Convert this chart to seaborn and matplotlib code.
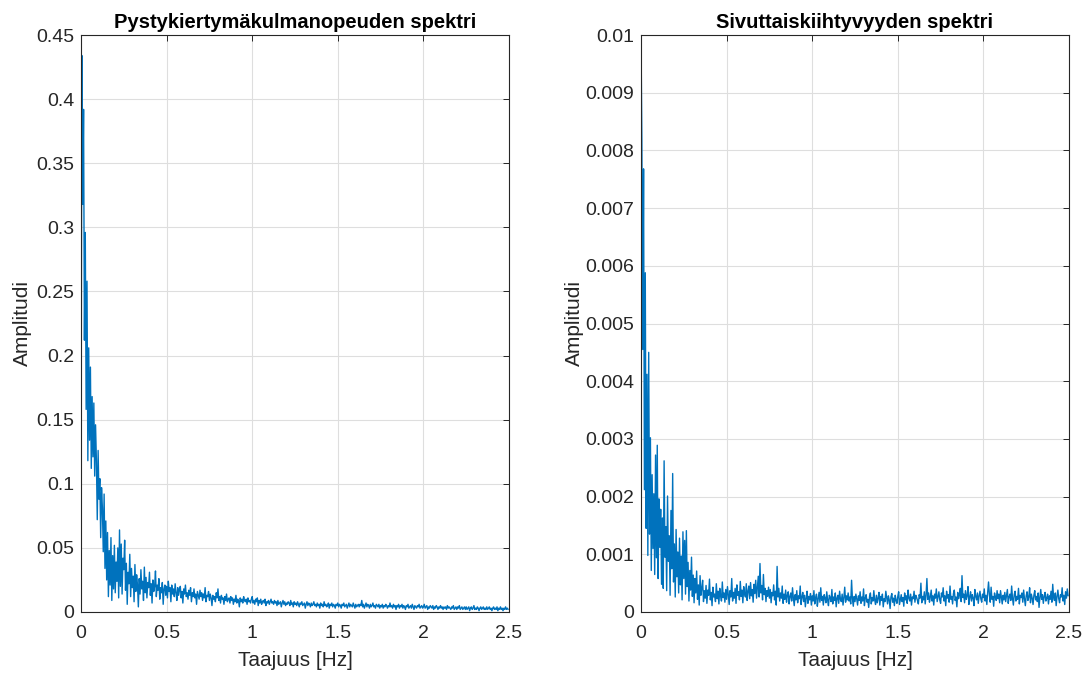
import numpy as np
import pandas as pd
import matplotlib
matplotlib.use("Agg")
import matplotlib.pyplot as plt
from matplotlib.ticker import FormatStrFormatter, MultipleLocator
import seaborn as sns

# Spectral resolution of both amplitude spectra [Hz]
df_hz = 0.005

# Yaw-rate spectrum amplitude, in units of 1e-3
yaw_amp_milli = [
    83, 434, 318, 392, 212, 296, 158, 258, 118, 206, 134, 191, 112, 168, 121, 163, 106, 146, 118, 72, 126, 88, 104, 58, 97,
    81, 47, 92, 34, 71, 25, 62, 12, 48, 21, 58, 9, 44, 18, 52, 15, 39, 24, 50, 11, 64, 20, 53, 14, 42,
    33, 56, 17, 38, 6, 31, 22, 45, 12, 34, 19, 28, 8, 37, 16, 29, 21, 4, 26, 14, 33, 18, 24, 9, 35,
    15, 27, 11, 23, 19, 31, 13, 22, 7, 25, 16, 20, 32, 12, 21, 17, 26, 10, 19, 15, 23, 6, 18, 21, 13,
    20, 11, 24, 16, 19, 8, 21, 14, 18, 12, 22, 15, 9, 19, 13, 17, 20, 11, 16, 7, 18, 14, 21, 12, 15,
    10, 17, 13, 19, 8, 15, 12, 18, 11, 14, 6, 16, 13, 10, 17, 12, 15, 9, 14, 11, 19, 8, 13, 12, 16,
    9, 14, 11, 5, 13, 10, 12, 8, 15, 11, 18, 9, 12, 7, 13, 10, 11, 6, 12, 9, 14, 8, 10, 11, 7,
    12, 9, 11, 6, 10, 8, 13, 7, 10, 9, 4, 11, 8, 10, 7, 12, 9, 8, 10, 6, 11, 8, 9, 7, 10,
    12, 7, 9, 6, 10, 8, 11, 5, 9, 7, 10, 6, 8, 9, 7, 10, 5, 8, 7, 9, 6, 8, 10, 7, 8,
    6, 9, 7, 8, 5, 9, 6, 7, 8, 4, 7, 9, 6, 8, 5, 7, 6, 8, 7, 5, 9, 6, 7, 4, 8,
    6, 7, 5, 8, 6, 4, 7, 6, 8, 5, 6, 7, 3, 6, 8, 5, 7, 6, 4, 7, 5, 6, 8, 5, 6,
    4, 7, 5, 6, 3, 7, 5, 6, 4, 8, 5, 6, 4, 5, 7, 3, 6, 5, 7, 4, 6, 5, 3, 6, 5,
    7, 4, 6, 5, 3, 6, 5, 7, 4, 5, 6, 3, 5, 7, 4, 6, 5, 4, 7, 5, 3, 6, 4, 5, 6,
    4, 6, 5, 9, 4, 6, 3, 5, 7, 4, 6, 5, 3, 6, 4, 5, 7, 4, 5, 3, 6, 5, 4, 6, 3,
    5, 4, 6, 3, 5, 4, 6, 5, 3, 5, 4, 7, 4, 5, 3, 6, 4, 5, 2, 5, 4, 6, 3, 5, 4,
    6, 3, 5, 4, 2, 5, 4, 6, 3, 4, 5, 3, 6, 4, 2, 5, 4, 3, 5, 4, 6, 3, 4, 5, 3,
    4, 6, 3, 4, 5, 2, 4, 3, 5, 4, 3, 5, 2, 4, 3, 5, 4, 2, 4, 3, 5, 3, 4, 2, 4,
    3, 4, 2, 5, 3, 4, 3, 2, 4, 3, 5, 2, 3, 4, 2, 4, 3, 5, 2, 3, 4, 2, 3, 4, 2,
    4, 2, 3, 4, 1, 3, 4, 2, 3, 5, 2, 3, 2, 4, 3, 1, 3, 4, 2, 3, 4, 2, 3, 2, 4,
    2, 3, 4, 2, 3, 1, 3, 4, 2, 3, 2, 4, 1, 3, 2, 4, 2, 3, 1, 3, 2, 4, 2, 3, 2,
]

# Lateral acceleration spectrum amplitude, in units of 1e-5
lat_amp_e5 = [
    998, 817, 455, 768, 212, 588, 145, 412, 98, 450, 135, 302, 72, 238, 110, 205, 65, 272, 94, 289, 58, 196, 112, 178, 48,
    163, 41, 262, 95, 148, 37, 201, 88, 132, 29, 176, 75, 240, 52, 118, 26, 143, 61, 104, 33, 128, 47, 97, 21, 139,
    58, 124, 31, 141, 44, 86, 19, 72, 38, 95, 27, 64, 16, 58, 33, 71, 22, 47, 12, 63, 29, 41, 55, 18, 37,
    24, 46, 15, 38, 29, 57, 21, 34, 11, 43, 26, 31, 18, 49, 23, 36, 14, 41, 28, 19, 52, 25, 33, 17, 39,
    22, 44, 30, 13, 37, 26, 58, 19, 34, 24, 41, 15, 47, 29, 35, 21, 53, 27, 38, 16, 44, 31, 26, 49, 20,
    36, 45, 23, 51, 28, 39, 17, 48, 32, 55, 24, 42, 62, 26, 84, 33, 46, 21, 65, 30, 41, 18, 37, 27, 43,
    24, 39, 16, 34, 28, 47, 21, 36, 12, 79, 26, 41, 19, 33, 24, 45, 15, 31, 22, 38, 17, 29, 35, 14, 27,
    33, 19, 42, 24, 11, 30, 21, 37, 16, 28, 23, 45, 13, 26, 34, 18, 29, 9, 24, 36, 15, 27, 21, 32, 12,
    28, 19, 37, 14, 25, 31, 10, 23, 34, 17, 42, 20, 27, 12, 30, 24, 16, 35, 21, 11, 29, 25, 18, 39, 14,
    26, 20, 33, 9, 24, 29, 15, 36, 22, 18, 31, 12, 25, 43, 17, 28, 21, 33, 19, 26, 14, 55, 22, 10, 27,
    18, 31, 23, 12, 28, 20, 35, 15, 26, 19, 40, 11, 24, 30, 17, 22, 8, 27, 33, 14, 25, 19, 37, 21, 13,
    29, 16, 24, 34, 12, 27, 20, 31, 9, 23, 18, 36, 25, 14, 28, 21, 6, 26, 32, 17, 24, 11, 29, 20, 15,
    27, 35, 13, 22, 30, 18, 25, 10, 33, 21, 28, 15, 38, 24, 19, 31, 12, 26, 23, 36, 17, 29, 25, 20, 14,
    30, 24, 50, 16, 27, 21, 35, 14, 29, 58, 22, 33, 17, 26, 38, 19, 28, 12, 31, 24, 40, 18, 27, 35, 21,
    15, 33, 26, 42, 19, 28, 11, 36, 24, 30, 17, 45, 22, 27, 14, 32, 38, 20, 26, 9, 34, 23, 29, 41, 18,
    63, 25, 31, 16, 37, 22, 28, 44, 13, 26, 35, 19, 30, 24, 11, 39, 27, 21, 33, 15, 28, 36, 23, 17, 31,
    25, 40, 19, 29, 13, 34, 52, 30, 17, 43, 22, 27, 10, 33, 26, 20, 37, 23, 31, 16, 37, 25, 14, 29, 21,
    34, 18, 28, 39, 15, 26, 31, 20, 45, 24, 12, 30, 36, 19, 27, 22, 41, 14, 29, 25, 33, 17, 38, 23, 11,
    28, 35, 20, 26, 42, 16, 31, 24, 13, 29, 37, 21, 27, 18, 33, 8, 25, 39, 22, 30, 15, 27, 34, 19, 24,
    31, 14, 28, 22, 36, 17, 48, 25, 20, 33, 11, 27, 38, 23, 16, 30, 26, 42, 19, 29, 13, 35, 24, 40, 28,
]

titles = ["Pystykiertymäkulmanopeuden spektri", "Sivuttaiskiihtyvyyden spektri"]
x_label = "Taajuus [Hz]"
y_label = "Amplitudi"
x_ticks = [0, 0.5, 1, 1.5, 2, 2.5]

yaw = pd.DataFrame({"f": np.arange(len(yaw_amp_milli)) * df_hz,
                    "amp": np.array(yaw_amp_milli) * 1e-3})
lat = pd.DataFrame({"f": np.arange(len(lat_amp_e5)) * df_hz,
                    "amp": np.array(lat_amp_e5) * 1e-5})

sns.set_theme(style="white")
plt.rcParams["font.family"] = ["Liberation Sans", "DejaVu Sans"]

LINE = "#0072BD"
INK = "#262626"

fig = plt.figure(figsize=(10.85, 6.75), dpi=100)
ax1 = fig.add_axes([81 / 1085, 63 / 675, 428 / 1085, 577 / 675])
ax2 = fig.add_axes([641 / 1085, 63 / 675, 428 / 1085, 577 / 675])

panels = [
    (ax1, yaw, 0.45, 0.05, 3),
    (ax2, lat, 0.01, 0.001, 1),
]

for ax, data, ymax, ystep, ypad in panels:
    sns.lineplot(data=data, x="f", y="amp", ax=ax, color=LINE, linewidth=1.0,
                 estimator=None, sort=False)
    ax.set_xlim(0, 2.5)
    ax.set_ylim(0, ymax)
    ax.set_xticks(x_ticks)
    ax.yaxis.set_major_locator(MultipleLocator(ystep))
    ax.xaxis.set_major_formatter(FormatStrFormatter("%g"))
    ax.yaxis.set_major_formatter(FormatStrFormatter("%g"))
    ax.grid(True, color="#dedede", linewidth=0.8)
    ax.set_axisbelow(True)
    for s in ax.spines.values():
        s.set_visible(True)
        s.set_color(INK)
        s.set_linewidth(0.8)
    ax.tick_params(direction="in", top=True, right=True, length=4, width=0.7,
                   colors=INK, labelsize=14)
    ax.tick_params(axis="x", pad=9)
    ax.tick_params(axis="y", pad=5)
    ax.set_xlabel(x_label, fontsize=15, color=INK, labelpad=7)
    ax.set_ylabel(y_label, fontsize=15, color=INK, labelpad=ypad)

for ax, title in zip([ax1, ax2], titles):
    ax.set_title(title, fontsize=14.5, fontweight="bold", color="black", pad=5)

fig.savefig("out.png", dpi=100, facecolor="white")
